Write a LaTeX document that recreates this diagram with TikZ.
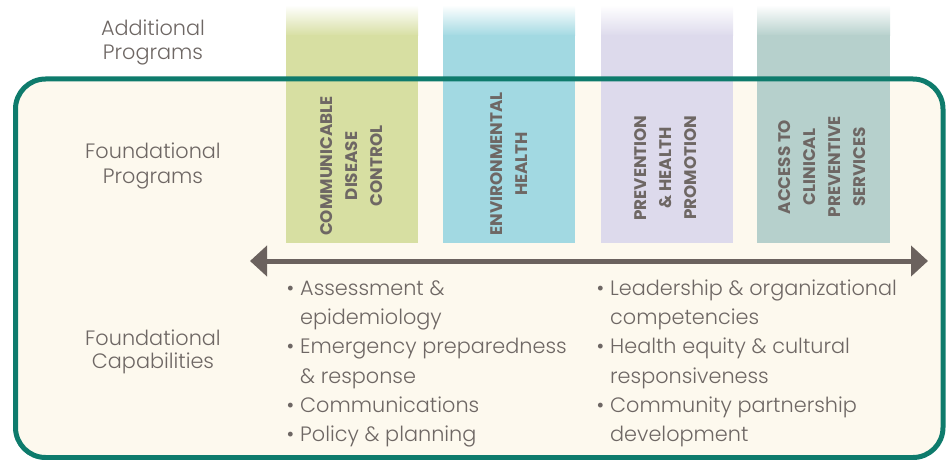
\documentclass[tikz,border=0pt]{standalone}
\usepackage{fontspec}
\setmainfont{Poppins}[UprightFont=* Light, BoldFont=* Bold]
\usetikzlibrary{arrows.meta}
\definecolor{bordercol}{HTML}{0E7B6C}
\definecolor{creamcol}{HTML}{FDF9EE}
\definecolor{greencol}{HTML}{D7DFA2}
\definecolor{bluecol}{HTML}{A2D9E2}
\definecolor{purplecol}{HTML}{DDDAEC}
\definecolor{sagecol}{HTML}{B6D0CC}
\definecolor{txtcol}{HTML}{6E6764}
\definecolor{arrowcol}{HTML}{6B625E}
\begin{document}
\begin{tikzpicture}[x=1pt,y=-1pt,
  lbl/.style={text=txtcol, font=\fontsize{20.8}{22}\selectfont, anchor=base, inner sep=0},
  item/.style={text=txtcol, font=\fontsize{20.8}{22}\selectfont, anchor=base west, inner sep=0},
  prog/.style={text=txtcol, font=\bfseries\fontsize{16.8}{25}\selectfont, align=center, rotate=90, inner sep=0}]
\useasboundingbox (0,0) rectangle (946,460);
\fill[creamcol, rounded corners=30pt] (15.5,79) rectangle (943,457.5);
% columns
\foreach \xa/\xb/\col in {286/418/greencol, 443/575/bluecol, 601/733/purplecol, 757/890/sagecol}{
  \shade[top color=white, bottom color=\col] (\xa,5) rectangle (\xb,36);
  \fill[\col] (\xa,35.5) rectangle (\xb,243);
}
\draw[bordercol, line width=5pt, rounded corners=30pt] (15.5,79) rectangle (943,457.5);
% program texts
\node[prog] (p1) at (352,166) {COMMUNICABLE\\DISEASE\\CONTROL};
\node[prog] (p2) at (509,164) {ENVIRONMENTAL\\HEALTH};
\node[prog] (p3) at (666,168) {PREVENTION\\\& HEALTH\\PROMOTION};
\node[prog] (p4) at (822,167) {ACCESS TO\\CLINICAL\\PREVENTIVE\\SERVICES};
% arrow
\coordinate (al) at (250,261);
\coordinate (ar) at (928,261);
\draw[arrowcol, line width=5pt, {Triangle[length=17pt,width=30pt]}-{Triangle[length=17pt,width=30pt]}] (al) -- (ar);
% left labels
\node[lbl] (a1) at (153,36) {Additional};
\node[lbl] (a2) at (153,60) {Programs};
\node[lbl] (f1) at (153,158) {Foundational};
\node[lbl] (f2) at (153,183) {Programs};
\node[lbl] (c1) at (153,345) {Foundational};
\node[lbl] (c2) at (153,368) {Capabilities};
% left list
\node[item] (l1) at (300,295) {\llap{\textbullet\hspace{6pt}}Assessment \&};
\node[item] (l2) at (300,324) {epidemiology};
\node[item] (l3) at (300,353) {\llap{\textbullet\hspace{6pt}}Emergency preparedness};
\node[item] (l4) at (300,383) {\& response};
\node[item] (l5) at (300,412) {\llap{\textbullet\hspace{6pt}}Communications};
\node[item] (l6) at (300,441) {\llap{\textbullet\hspace{6pt}}Policy \& planning};
% right list
\node[item] (r1) at (610,295) {\llap{\textbullet\hspace{6pt}}Leadership \& organizational};
\node[item] (r2) at (610,324) {competencies};
\node[item] (r3) at (610,353) {\llap{\textbullet\hspace{6pt}}Health equity \& cultural};
\node[item] (r4) at (610,383) {responsiveness};
\node[item] (r5) at (610,412) {\llap{\textbullet\hspace{6pt}}Community partnership};
\node[item] (r6) at (610,441) {development};
\end{tikzpicture}
\end{document}
